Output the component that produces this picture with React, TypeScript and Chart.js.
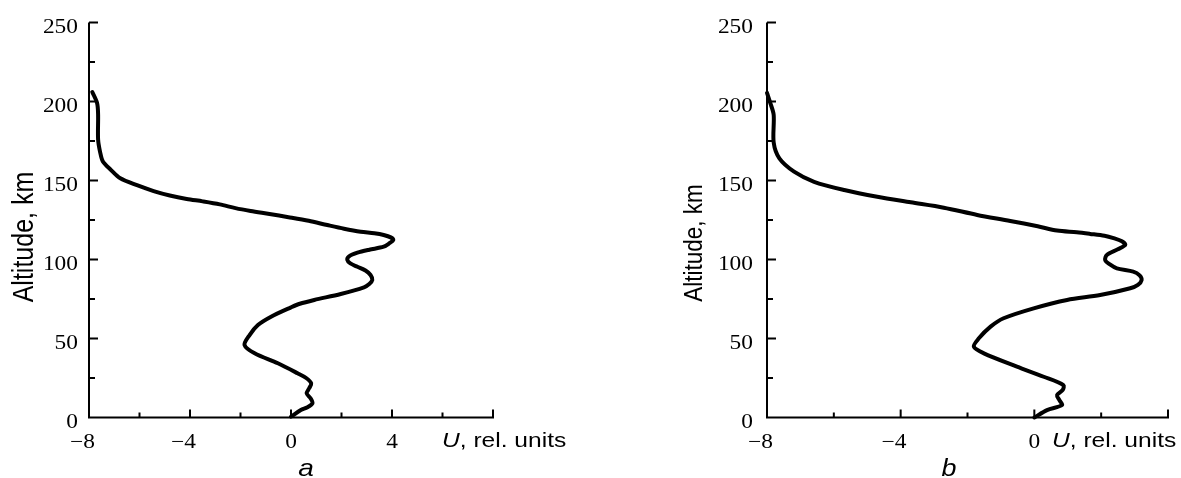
import React, { useEffect, useRef } from "react";
import { Chart, registerables } from "chart.js";

Chart.register(...registerables);

// ---------- data (panel a) ----------
const altitudeA = [206, 199, 192, 176, 168, 162, 157, 151.4, 147, 143.3, 140.5, 138.3, 136.8, 134.9, 132.5, 130.7, 128.8, 126.8, 124.5, 121.8, 119.5, 117.6, 116.6, 115.5, 114, 112.3, 110.3, 108.1, 106.2, 104.3, 102, 99.7, 97.5, 95.4, 93, 90.2, 87, 84.5, 82.4, 78.2, 74.4, 72, 69.7, 63.8, 58.5, 52.2, 45.9, 40.6, 34.3, 28, 25, 21.6, 18.5, 15.3, 12, 9, 6.5, 4.7, 0.5];
const uA = [-7.87, -7.68, -7.64, -7.64, -7.56, -7.45, -7.15, -6.76, -6.1, -5.44, -4.8, -4.13, -3.5, -2.82, -2.2, -1.6, -0.85, -0.1, 0.7, 1.44, 2.1, 2.76, 3.3, 3.67, 3.95, 4.05, 3.9, 3.67, 3.1, 2.63, 2.3, 2.23, 2.35, 2.63, 2.95, 3.15, 3.22, 3.1, 2.89, 1.97, 0.92, 0.35, 0, -0.79, -1.31, -1.64, -1.84, -1.44, -0.52, 0.26, 0.6, 0.8, 0.72, 0.62, 0.78, 0.85, 0.65, 0.39, 0];

// ---------- data (panel b) ----------
const altitudeB = [205.5, 199, 191.5, 174, 164, 155.6, 149.2, 144, 139.7, 136.2, 132.8, 128.2, 124.4, 121, 118.3, 117.2, 116.2, 115, 113.5, 111.5, 109.2, 106.5, 102.9, 99.7, 97, 94.4, 92.3, 90, 87, 84, 81.8, 77.5, 74.4, 69.1, 62.8, 57.5, 50.1, 44.8, 40.6, 32.2, 25.8, 20.5, 17.5, 14.2, 11, 7.9, 4.7, 0];
const uB = [-8, -7.9, -7.8, -7.8, -7.63, -7.19, -6.59, -5.69, -4.7, -3.7, -2.71, -1.71, -0.72, 0.1, 0.68, 1.27, 1.67, 2.1, 2.37, 2.62, 2.72, 2.5, 2.17, 2.12, 2.25, 2.47, 2.96, 3.15, 3.21, 3.1, 2.87, 1.97, 0.98, -0.02, -0.92, -1.31, -1.66, -1.81, -1.51, -0.52, 0.28, 0.87, 0.85, 0.68, 0.75, 0.83, 0.38, 0];

// ---------- axes ----------
const yTicks = [0, 25, 50, 75, 100, 125, 150, 175, 200, 225, 250];
const yLabels = [0, 50, 100, 150, 200, 250];
const xTicksA = [-8, -6, -4, -2, 0, 2, 4, 6, 8];
const xLabelsA = [-8, -4, 0, 4];
const xTicksB = [-8, -6, -4, -2, 0, 2, 4];
const xLabelsB = [-8, -4, 0];
const yTitle = "Altitude, km";
const xTitleItalic = "U";
const xTitleRest = ", rel. units";

const SX = 1.17; // horizontal stretch of the scanned figure

type Panel = {
  alt: number[];
  u: number[];
  xMin: number;
  xMax: number;
  xTicks: number[];
  xLabels: number[];
  width: number;
  chartLeft: number;
  chartRight: number;
  yLabelGap: number;
  yTitleX: number;
  yTitleY: number;
  yTitleSize: number;
  uTitleX: number;
  letter: string;
  letterX: number;
  letterSize: number;
};

const SERIF = '"Liberation Serif", "DejaVu Serif", serif';
const SANS = '"Liberation Sans", Arial, sans-serif';

function makePlugin(p: Panel) {
  return {
    id: "sciAxes",
    afterDraw(chart: any) {
      const ctx: CanvasRenderingContext2D = chart.ctx;
      const xs = chart.scales.x;
      const ys = chart.scales.y;
      const { left, right, top, bottom } = chart.chartArea;
      ctx.save();
      ctx.strokeStyle = "#000";
      ctx.fillStyle = "#000";
      ctx.lineWidth = 2;
      ctx.beginPath();
      ctx.moveTo(left, top);
      ctx.lineTo(left, bottom);
      ctx.lineTo(right + 1, bottom);
      ctx.stroke();

      ctx.beginPath();
      for (const v of yTicks) {
        if (v === 0) continue;
        const py = ys.getPixelForValue(v);
        const len = v % 50 === 0 ? 9 : 6;
        ctx.moveTo(left, py);
        ctx.lineTo(left + len, py);
      }
      for (const v of p.xTicks) {
        if (v === p.xMin) continue;
        const px = xs.getPixelForValue(v);
        const len = v % 4 === 0 ? 8 : 5;
        ctx.moveTo(px, bottom);
        ctx.lineTo(px, bottom - len);
      }
      ctx.stroke();

      // y labels
      ctx.font = "20px " + SERIF;
      ctx.textBaseline = "alphabetic";
      for (const v of yLabels) {
        const py = ys.getPixelForValue(v);
        ctx.save();
        ctx.translate(left - p.yLabelGap, py + 10.5);
        ctx.scale(SX, 1);
        ctx.textAlign = "right";
        ctx.fillText(String(v), 0, 0);
        ctx.restore();
      }
      // x labels
      for (const v of p.xLabels) {
        const px = xs.getPixelForValue(v);
        const digits = String(Math.abs(v));
        const text = v < 0 ? "\u2212" + digits : digits;
        const dw = ctx.measureText(digits).width;
        ctx.save();
        ctx.translate(px + (dw * SX) / 2, 448);
        ctx.scale(SX, 1);
        ctx.textAlign = "right";
        ctx.fillText(text, 0, 0);
        ctx.restore();
      }

      // x title
      ctx.save();
      ctx.translate(p.uTitleX, 447);
      ctx.scale(SX, 1);
      ctx.textAlign = "left";
      ctx.font = "italic 21px " + SANS;
      ctx.fillText(xTitleItalic, 0, 0);
      const uw = ctx.measureText(xTitleItalic).width;
      ctx.font = "21px " + SANS;
      ctx.fillText(xTitleRest, uw, 0);
      ctx.restore();

      // y title
      ctx.save();
      ctx.translate(p.yTitleX, p.yTitleY);
      ctx.scale(SX, 1);
      ctx.rotate(-Math.PI / 2);
      ctx.textAlign = "center";
      ctx.textBaseline = "middle";
      ctx.font = p.yTitleSize + "px " + SANS;
      ctx.fillText(yTitle, 0, 0);
      ctx.restore();

      // panel letter
      ctx.save();
      ctx.translate(p.letterX, 476);
      ctx.scale(SX, 1);
      ctx.textAlign = "center";
      ctx.textBaseline = "alphabetic";
      ctx.font = "italic " + p.letterSize + "px " + SANS;
      ctx.fillText(p.letter, 0, 0);
      ctx.restore();

      ctx.restore();
    },
  };
}

function PanelChart({ p, offset }: { p: Panel; offset: number }) {
  const ref = useRef<HTMLCanvasElement | null>(null);
  useEffect(() => {
    if (!ref.current) return;
    const points = p.alt.map((a, i) => ({ x: p.u[i], y: a }));
    const chart = new Chart(ref.current, {
      type: "scatter",
      data: {
        datasets: [
          {
            data: points,
            showLine: true,
            borderColor: "#000",
            borderWidth: 4,
            pointRadius: 0,
            tension: 0.3,
            clip: false as any,
            borderCapStyle: "round",
            borderJoinStyle: "round",
          } as any,
        ],
      },
      options: {
        responsive: false,
        maintainAspectRatio: false,
        animation: false,
        devicePixelRatio: 1,
        events: [],
        layout: {
          padding: { top: 22.5, right: p.width - p.chartRight, left: 0, bottom: 0 },
        },
        plugins: { legend: { display: false }, tooltip: { enabled: false } },
        scales: {
          x: {
            type: "linear",
            min: p.xMin,
            max: p.xMax,
            grid: { display: false },
            border: { display: false },
            ticks: { display: false },
            afterFit: (s: any) => {
              s.height = 60.5;
            },
          },
          y: {
            type: "linear",
            min: 0,
            max: 250,
            grid: { display: false },
            border: { display: false },
            ticks: { display: false },
            afterFit: (s: any) => {
              s.width = p.chartLeft;
            },
          },
        },
      },
      plugins: [makePlugin(p)],
    });
    return () => chart.destroy();
  }, []);
  return (
    <canvas
      ref={ref}
      width={p.width}
      height={478}
      style={{ position: "absolute", left: offset, top: 0, width: p.width, height: 478, display: "block" }}
    />
  );
}

const panelA: Panel = {
  alt: altitudeA,
  u: uA,
  xMin: -8,
  xMax: 8,
  xTicks: xTicksA,
  xLabels: xLabelsA,
  width: 600,
  chartLeft: 89,
  chartRight: 493,
  yLabelGap: 11,
  yTitleX: 25,
  yTitleY: 237,
  yTitleSize: 25,
  uTitleX: 442,
  letter: "a",
  letterX: 306,
  letterSize: 24,
};

const panelB: Panel = {
  alt: altitudeB,
  u: uB,
  xMin: -8,
  xMax: 4,
  xTicks: xTicksB,
  xLabels: xLabelsB,
  width: 581,
  chartLeft: 167,
  chartRight: 568,
  yLabelGap: 14,
  yTitleX: 95,
  yTitleY: 243,
  yTitleSize: 22.5,
  uTitleX: 452,
  letter: "b",
  letterX: 349,
  letterSize: 23,
};

export default function App() {
  return (
    <div style={{ position: "fixed", left: 0, top: 0, width: 1181, height: 478, background: "#fff", overflow: "hidden" }}>
      <PanelChart p={panelA} offset={0} />
      <PanelChart p={panelB} offset={600} />
    </div>
  );
}
